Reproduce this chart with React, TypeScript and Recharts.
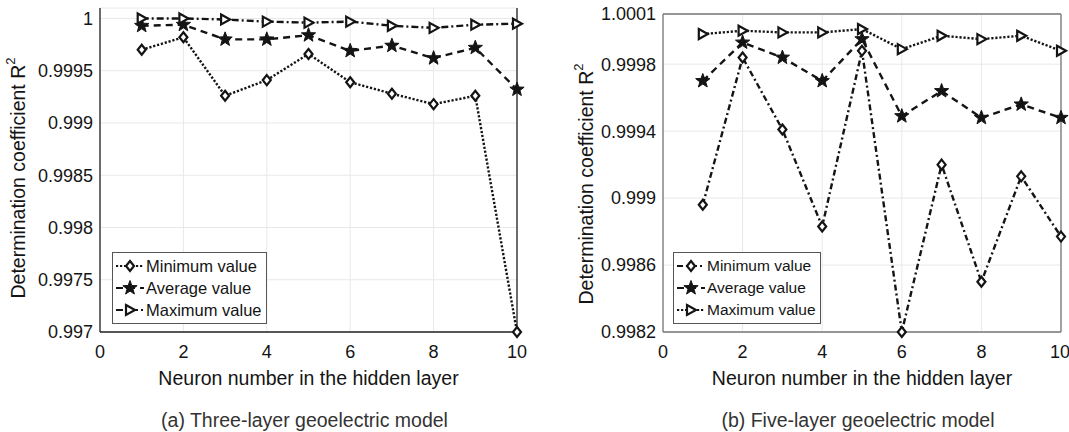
import React from "react"
import { CartesianGrid, Label, Legend, Line, LineChart, ReferenceLine, XAxis, YAxis } from "recharts"

// values (neurons 1..10)
const neurons = [1, 2, 3, 4, 5, 6, 7, 8, 9, 10]

const threeLayerMin = [0.9997, 0.99982, 0.99926, 0.99941, 0.99966, 0.99939, 0.99928, 0.99918, 0.99926, 0.997]
const threeLayerAvg = [0.99993, 0.99994, 0.9998, 0.9998, 0.99984, 0.99969, 0.99974, 0.99962, 0.99972, 0.99932]
const threeLayerMax = [1.0, 1.0, 0.99999, 0.99997, 0.99996, 0.99997, 0.99993, 0.99991, 0.99994, 0.99995]

const fiveLayerMin = [0.99896, 0.99984, 0.99941, 0.99883, 0.99988, 0.9982, 0.9992, 0.9985, 0.99913, 0.99877]
const fiveLayerAvg = [0.9997, 0.99993, 0.99984, 0.9997, 0.99995, 0.99949, 0.99964, 0.99948, 0.99956, 0.99948]
const fiveLayerMax = [0.99998, 1.0, 0.99999, 0.99999, 1.00001, 0.99989, 0.99997, 0.99995, 0.99997, 0.99988]

const xTicks = [0, 2, 4, 6, 8, 10]
const threeLayerTicks = [0.997, 0.9975, 0.998, 0.9985, 0.999, 0.9995, 1]
const fiveLayerTicks = [0.9982, 0.9986, 0.999, 0.9994, 0.9998, 1.0001]

const seriesNames = ["Minimum value", "Average value", "Maximum value"]

const FONT = '"Liberation Sans", Arial, sans-serif'
const INK = "#141414"

const buildRows = (min: number[], avg: number[], max: number[]) =>
  neurons.map((n, i) => ({ n, min: min[i], avg: avg[i], max: max[i] }))

const threeLayerData = buildRows(threeLayerMin, threeLayerAvg, threeLayerMax)
const fiveLayerData = buildRows(fiveLayerMin, fiveLayerAvg, fiveLayerMax)

// markers
const Diamond = ({ cx, cy }: any) => (
  <polygon
    points={`${cx},${cy - 5} ${cx + 4},${cy} ${cx},${cy + 5} ${cx - 4},${cy}`}
    fill="#fff"
    stroke={INK}
    strokeWidth={2.2}
  />
)

const Star = ({ cx, cy }: any) => {
  const pts = []
  for (let k = 0; k < 10; k++) {
    const r = k % 2 === 0 ? 7.5 : 3.1
    const a = -Math.PI / 2 + (k * Math.PI) / 5
    pts.push(`${cx + r * Math.cos(a)},${cy + r * Math.sin(a)}`)
  }
  return <polygon points={pts.join(" ")} fill={INK} stroke={INK} strokeWidth={1} />
}

const TriRight = ({ cx, cy }: any) => (
  <polygon
    points={`${cx - 4},${cy - 5} ${cx + 5},${cy} ${cx - 4},${cy + 5}`}
    fill="#fff"
    stroke={INK}
    strokeWidth={2.2}
  />
)

const markers = [Diamond, Star, TriRight]

const dotFor = (Marker: any) => (props: any) => {
  if (props.cx == null || props.cy == null) return <g key={props.index} />
  return (
    <g key={`m-${props.index}`}>
      <Marker cx={props.cx} cy={props.cy} />
    </g>
  )
}

const YTitle = (cx: number) => (props: any) => {
  const { viewBox } = props
  const x = viewBox.x + cx
  const y = viewBox.y + 170
  return (
    <text
      x={x}
      y={y}
      transform={`rotate(-90, ${x}, ${y})`}
      textAnchor="middle"
      dominantBaseline="central"
      fontFamily={FONT}
      fontSize={19.5}
      fill={INK}
    >
      <tspan>Determination coefficient R</tspan>
      <tspan dy={-8} fontSize={13}>
        2
      </tspan>
    </text>
  )
}

const XTitle = (caption: string) => (props: any) => {
  const { viewBox } = props
  const cx = viewBox.x + viewBox.width / 2
  return (
    <g fontFamily={FONT}>
      <text x={cx} y={viewBox.y + 46} textAnchor="middle" dominantBaseline="central" fontSize={19.5} fill={INK}>
        Neuron number in the hidden layer
      </text>
      <text x={cx - 4} y={viewBox.y + 88} textAnchor="middle" dominantBaseline="central" fontSize={19.5} fill="#333">
        {caption}
      </text>
    </g>
  )
}

const LegendBox = (dashes: string[], fontSize: number) => () => (
  <div
    style={{
      border: "1px solid #555",
      background: "#fff",
      padding: "2px 4px 2px 2px",
      fontFamily: FONT,
      fontSize,
      color: INK,
      lineHeight: "22px",
    }}
  >
    {seriesNames.map((name, i) => {
      const Marker = markers[i]
      return (
        <div key={name} style={{ display: "flex", alignItems: "center", whiteSpace: "nowrap" }}>
          <svg width={30} height={22} style={{ marginRight: 1 }}>
            <line x1={1} y1={11} x2={29} y2={11} stroke={INK} strokeWidth={2.2} strokeDasharray={dashes[i]} />
            <Marker cx={15} cy={11} />
          </svg>
          {name}
        </div>
      )
    })}
  </div>
)

type PanelProps = {
  data: any[]
  ticks: number[]
  domain: [number, number]
  width: number
  axisWidth: number
  top: number
  right: number
  dashes: string[]
  caption: string
  titleX: number
  frameColor: string
  boxTop: boolean
  legendPos: { left: number; top: number }
  legendFont: number
}

const Panel = (p: PanelProps) => (
  <LineChart
    width={p.width}
    height={432}
    data={p.data}
    margin={{ top: p.top, right: p.right, left: 0, bottom: 0 }}
  >
    <CartesianGrid stroke="#e8e8e8" strokeWidth={1} />
    <XAxis
      dataKey="n"
      type="number"
      domain={[0, 10]}
      ticks={xTicks}
      height={100}
      tickSize={0}
      tickMargin={13}
      tick={{ fontSize: 18, fill: INK, fontFamily: FONT }}
      axisLine={{ stroke: p.frameColor, strokeWidth: 1.3 }}
    >
      <Label content={XTitle(p.caption)} />
    </XAxis>
    <YAxis
      type="number"
      domain={p.domain}
      ticks={p.ticks}
      width={p.axisWidth}
      tickSize={0}
      tickMargin={7}
      interval={0}
      tick={{ fontSize: 18, fill: INK, fontFamily: FONT }}
      tickFormatter={(v) => String(v)}
      axisLine={{ stroke: p.frameColor, strokeWidth: 1.3 }}
    >
      <Label content={YTitle(p.titleX)} />
    </YAxis>
    <ReferenceLine x={10} stroke={p.frameColor} strokeWidth={1.3} />
    {p.boxTop && <ReferenceLine y={p.domain[1]} stroke={p.frameColor} strokeWidth={1.3} />}
    <Legend
      content={LegendBox(p.dashes, p.legendFont)}
      layout="vertical"
      align="center"
      verticalAlign="middle"
      wrapperStyle={{ position: "absolute", left: p.legendPos.left, top: p.legendPos.top, width: "auto" }}
    />
    {["min", "avg", "max"].map((key, i) => (
      <Line
        key={key}
        name={seriesNames[i]}
        dataKey={key}
        stroke={INK}
        strokeWidth={2.4}
        strokeDasharray={p.dashes[i]}
        dot={dotFor(markers[i])}
        activeDot={false}
        isAnimationActive={false}
      />
    ))}
  </LineChart>
)

export default function App() {
  return (
    <div style={{ position: "absolute", left: 0, top: 0, width: 1069, height: 432, background: "#fff" }}>
      <div style={{ position: "absolute", left: 0, top: 0 }}>
        <Panel
          data={threeLayerData}
          ticks={threeLayerTicks}
          domain={[0.997, 1.0001]}
          width={530}
          axisWidth={100}
          top={8}
          right={13}
          dashes={["2.2 1.8", "7 5", "7 3 2 3"]}
          caption="(a) Three-layer geoelectric model"
          titleX={18}
          frameColor="#222"
          boxTop={false}
          legendPos={{ left: 112, top: 252 }}
          legendFont={16.5}
        />
      </div>
      <div style={{ position: "absolute", left: 540, top: 0 }}>
        <Panel
          data={fiveLayerData}
          ticks={fiveLayerTicks}
          domain={[0.9982, 1.0001]}
          width={529}
          axisWidth={123}
          top={14}
          right={8}
          dashes={["6 3 2 3", "7 5", "2.2 1.8"]}
          caption="(b) Five-layer geoelectric model"
          titleX={46}
          frameColor="#777"
          boxTop={true}
          legendPos={{ left: 133, top: 252 }}
          legendFont={15.5}
        />
      </div>
    </div>
  )
}
